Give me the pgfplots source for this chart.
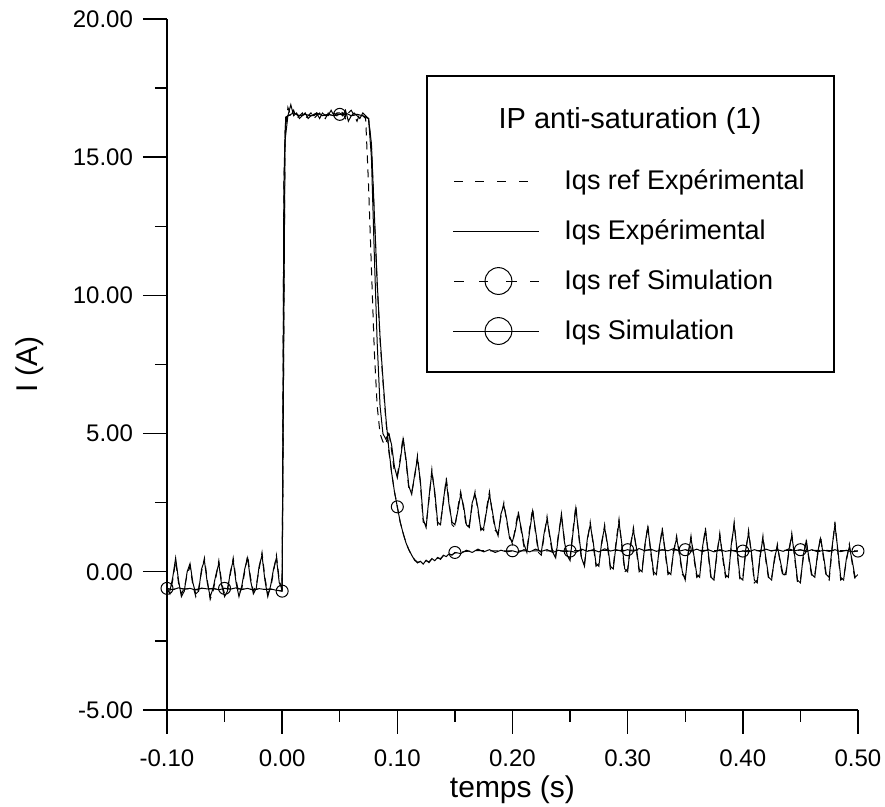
\documentclass[border=0pt]{standalone}
\usepackage{fontspec}
\setmainfont{Liberation Sans}
\usepackage{pgfplots}
\pgfplotsset{compat=1.18}
\usepackage{pgfplotstable}

\pgfplotstableread{
t y
-0.1000 -0.6
-0.0975 -0.8
-0.0950 -0.3
-0.0925 0.4
-0.0900 -0.4
-0.0875 -0.8
-0.0850 -0.6
-0.0825 -0.1
-0.0800 0.2
-0.0775 -0.5
-0.0750 -0.9
-0.0725 -0.6
-0.0700 0.0
-0.0675 0.5
-0.0650 -0.3
-0.0625 -1.0
-0.0600 -0.7
-0.0575 -0.2
-0.0550 0.4
-0.0525 -0.4
-0.0500 -0.8
-0.0475 -0.6
-0.0450 -0.1
-0.0425 0.5
-0.0400 -0.3
-0.0375 -0.8
-0.0350 -0.6
-0.0325 0.0
-0.0300 0.6
-0.0275 -0.2
-0.0250 -0.7
-0.0225 -0.5
-0.0200 0.1
-0.0175 0.7
-0.0150 -0.2
-0.0125 -0.8
-0.0100 -0.6
-0.0075 0.0
-0.0050 0.6
-0.0025 -0.3
0.0000 -0.7
0.0025 15.9
0.0050 16.8
0.0075 16.5
0.0100 16.7
0.0125 16.4
0.0150 16.5
0.0175 16.6
0.0200 16.4
0.0225 16.5
0.0250 16.6
0.0275 16.4
0.0300 16.5
0.0325 16.6
0.0350 16.5
0.0375 16.4
0.0400 16.6
0.0425 16.5
0.0450 16.6
0.0475 16.5
0.0500 16.7
0.0525 16.6
0.0550 16.4
0.0575 16.6
0.0600 16.7
0.0625 16.5
0.0650 16.3
0.0675 16.6
0.0700 16.5
0.0725 16.4
0.0750 14.0
0.0775 11.0
0.0800 8.0
0.0825 6.0
0.0850 5.0
0.0875 4.7
0.0900 4.6
0.0925 5.1
0.0950 4.4
0.0975 3.6
0.1000 3.5
0.1025 4.1
0.1050 4.9
0.1075 4.0
0.1100 3.0
0.1125 2.9
0.1150 3.4
0.1175 4.2
0.1200 3.2
0.1225 1.8
0.1250 1.7
0.1275 2.6
0.1300 3.7
0.1325 2.8
0.1350 1.7
0.1375 1.8
0.1400 2.5
0.1425 3.4
0.1450 2.5
0.1475 1.7
0.1500 1.6
0.1525 2.3
0.1550 2.9
0.1575 2.3
0.1600 1.6
0.1625 1.7
0.1650 2.4
0.1675 2.9
0.1700 2.2
0.1725 1.6
0.1750 1.5
0.1775 2.3
0.1800 2.9
0.1825 2.1
0.1850 1.5
0.1875 1.4
0.1900 2.0
0.1925 2.5
0.1950 1.8
0.1975 1.3
0.2000 1.0
0.2025 1.6
0.2050 2.2
0.2075 1.5
0.2100 0.9
0.2125 0.8
0.2150 1.6
0.2175 2.3
0.2200 1.4
0.2225 0.7
0.2250 0.6
0.2275 1.3
0.2300 2.0
0.2325 1.2
0.2350 0.6
0.2375 0.6
0.2400 1.4
0.2425 2.0
0.2450 1.2
0.2475 0.5
0.2500 0.5
0.2525 1.5
0.2550 2.4
0.2575 1.3
0.2600 0.4
0.2625 0.3
0.2650 1.1
0.2675 1.8
0.2700 1.0
0.2725 0.2
0.2750 0.3
0.2775 1.0
0.2800 1.7
0.2825 0.9
0.2850 0.1
0.2875 0.2
0.2900 1.1
0.2925 1.9
0.2950 0.9
0.2975 0.0
0.3000 0.1
0.3025 0.9
0.3050 1.6
0.3075 0.8
0.3100 0.0
0.3125 0.1
0.3150 0.9
0.3175 1.7
0.3200 0.7
0.3225 -0.1
0.3250 0.0
0.3275 0.8
0.3300 1.6
0.3325 0.7
0.3350 -0.1
0.3375 0.0
0.3400 0.7
0.3425 1.3
0.3450 0.6
0.3475 -0.1
0.3500 -0.2
0.3525 0.6
0.3550 1.3
0.3575 0.5
0.3600 -0.2
0.3625 -0.1
0.3650 0.8
0.3675 1.6
0.3700 0.6
0.3725 -0.3
0.3750 -0.2
0.3775 0.6
0.3800 1.4
0.3825 0.5
0.3850 -0.2
0.3875 -0.1
0.3900 0.9
0.3925 1.8
0.3950 0.7
0.3975 -0.3
0.4000 -0.2
0.4025 0.7
0.4050 1.5
0.4075 0.6
0.4100 -0.4
0.4125 -0.3
0.4150 0.5
0.4175 1.3
0.4200 0.4
0.4225 -0.3
0.4250 -0.2
0.4275 0.4
0.4300 1.0
0.4325 0.3
0.4350 -0.2
0.4375 0.0
0.4400 0.7
0.4425 1.4
0.4450 0.5
0.4475 -0.4
0.4500 -0.3
0.4525 0.5
0.4550 1.2
0.4575 0.4
0.4600 -0.2
0.4625 -0.1
0.4650 0.6
0.4675 1.3
0.4700 0.5
0.4725 -0.2
0.4750 -0.3
0.4775 0.8
0.4800 1.8
0.4825 0.7
0.4850 -0.3
0.4875 -0.2
0.4900 0.4
0.4925 1.0
0.4950 0.3
0.4975 -0.3
0.5000 -0.2
}\refexp

\pgfplotstableread{
t y
-0.1000 -0.7
-0.0975 -0.7
-0.0950 -0.2
-0.0925 0.5
-0.0900 -0.3
-0.0875 -0.9
-0.0850 -0.7
-0.0825 0.0
-0.0800 0.3
-0.0775 -0.4
-0.0750 -0.8
-0.0725 -0.7
-0.0700 0.1
-0.0675 0.4
-0.0650 -0.4
-0.0625 -0.9
-0.0600 -0.6
-0.0575 -0.1
-0.0550 0.3
-0.0525 -0.5
-0.0500 -0.9
-0.0475 -0.7
-0.0450 0.0
-0.0425 0.4
-0.0400 -0.4
-0.0375 -0.9
-0.0350 -0.5
-0.0325 0.1
-0.0300 0.5
-0.0275 -0.3
-0.0250 -0.8
-0.0225 -0.6
-0.0200 0.2
-0.0175 0.6
-0.0150 -0.3
-0.0125 -0.9
-0.0100 -0.5
-0.0075 0.1
-0.0050 0.5
-0.0025 -0.4
0.0000 -0.6
0.0025 15.6
0.0050 16.5
0.0075 16.9
0.0100 16.5
0.0125 16.6
0.0150 16.4
0.0175 16.5
0.0200 16.6
0.0225 16.4
0.0250 16.5
0.0275 16.5
0.0300 16.6
0.0325 16.4
0.0350 16.6
0.0375 16.5
0.0400 16.5
0.0425 16.7
0.0450 16.5
0.0475 16.6
0.0500 16.6
0.0525 16.5
0.0550 16.7
0.0575 16.3
0.0600 16.5
0.0625 16.6
0.0650 16.5
0.0675 16.4
0.0700 16.6
0.0725 16.5
0.0750 16.4
0.0775 15.0
0.0800 11.5
0.0825 8.3
0.0850 6.0
0.0875 5.0
0.0900 4.8
0.0925 5.0
0.0950 4.6
0.0975 3.8
0.1000 3.4
0.1025 4.0
0.1050 4.8
0.1075 4.1
0.1100 3.1
0.1125 2.8
0.1150 3.5
0.1175 4.1
0.1200 3.3
0.1225 1.9
0.1250 1.6
0.1275 2.7
0.1300 3.6
0.1325 2.9
0.1350 1.8
0.1375 1.7
0.1400 2.6
0.1425 3.3
0.1450 2.4
0.1475 1.8
0.1500 1.7
0.1525 2.2
0.1550 2.8
0.1575 2.4
0.1600 1.7
0.1625 1.6
0.1650 2.5
0.1675 2.8
0.1700 2.3
0.1725 1.5
0.1750 1.6
0.1775 2.2
0.1800 2.8
0.1825 2.2
0.1850 1.6
0.1875 1.3
0.1900 2.1
0.1925 2.4
0.1950 1.9
0.1975 1.2
0.2000 1.1
0.2025 1.5
0.2050 2.1
0.2075 1.6
0.2100 1.0
0.2125 0.7
0.2150 1.5
0.2175 2.2
0.2200 1.5
0.2225 0.8
0.2250 0.7
0.2275 1.4
0.2300 1.9
0.2325 1.3
0.2350 0.7
0.2375 0.5
0.2400 1.3
0.2425 2.1
0.2450 1.1
0.2475 0.6
0.2500 0.4
0.2525 1.4
0.2550 2.3
0.2575 1.4
0.2600 0.5
0.2625 0.2
0.2650 1.2
0.2675 1.7
0.2700 1.1
0.2725 0.3
0.2750 0.2
0.2775 1.1
0.2800 1.6
0.2825 1.0
0.2850 0.2
0.2875 0.1
0.2900 1.0
0.2925 1.8
0.2950 1.0
0.2975 0.1
0.3000 0.0
0.3025 1.0
0.3050 1.5
0.3075 0.9
0.3100 0.1
0.3125 0.0
0.3150 1.0
0.3175 1.6
0.3200 0.8
0.3225 0.0
0.3250 -0.1
0.3275 0.9
0.3300 1.5
0.3325 0.8
0.3350 0.0
0.3375 -0.1
0.3400 0.8
0.3425 1.2
0.3450 0.7
0.3475 0.0
0.3500 -0.3
0.3525 0.7
0.3550 1.2
0.3575 0.6
0.3600 -0.1
0.3625 -0.2
0.3650 0.9
0.3675 1.5
0.3700 0.7
0.3725 -0.2
0.3750 -0.3
0.3775 0.7
0.3800 1.3
0.3825 0.6
0.3850 -0.1
0.3875 -0.2
0.3900 1.0
0.3925 1.7
0.3950 0.8
0.3975 -0.2
0.4000 -0.3
0.4025 0.8
0.4050 1.4
0.4075 0.7
0.4100 -0.3
0.4125 -0.4
0.4150 0.6
0.4175 1.2
0.4200 0.5
0.4225 -0.2
0.4250 -0.3
0.4275 0.5
0.4300 0.9
0.4325 0.4
0.4350 -0.1
0.4375 -0.1
0.4400 0.8
0.4425 1.3
0.4450 0.6
0.4475 -0.3
0.4500 -0.4
0.4525 0.6
0.4550 1.1
0.4575 0.5
0.4600 -0.1
0.4625 -0.2
0.4650 0.7
0.4675 1.2
0.4700 0.6
0.4725 -0.1
0.4750 -0.2
0.4775 0.9
0.4800 1.7
0.4825 0.8
0.4850 -0.2
0.4875 -0.3
0.4900 0.5
0.4925 0.9
0.4950 0.4
0.4975 -0.2
0.5000 -0.1
}\actexp

\pgfplotstableread{
t y
-0.100 -0.60
-0.095 -0.65
-0.090 -0.58
-0.085 -0.63
-0.080 -0.60
-0.075 -0.66
-0.070 -0.59
-0.065 -0.62
-0.060 -0.60
-0.055 -0.65
-0.050 -0.60
-0.045 -0.63
-0.040 -0.58
-0.035 -0.64
-0.030 -0.60
-0.025 -0.66
-0.020 -0.61
-0.015 -0.64
-0.010 -0.62
-0.005 -0.67
0.000 -0.70
0.0015 14.0
0.003 16.4
0.005 16.5
0.010 16.6
0.015 16.5
0.020 16.55
0.025 16.5
0.030 16.6
0.035 16.5
0.040 16.55
0.045 16.5
0.050 16.55
0.055 16.6
0.060 16.5
0.065 16.55
0.070 16.5
0.075 16.4
0.0775 15.5
0.080 13.0
0.0825 10.5
0.085 8.5
0.0875 7.0
0.090 5.6
0.0925 4.5
0.095 3.6
0.0975 2.9
0.100 2.35
0.1025 1.8
0.105 1.4
0.1075 1.05
0.110 0.80
0.1125 0.60
0.115 0.42
0.1175 0.32
0.120 0.38
0.1225 0.28
0.125 0.42
0.1275 0.33
0.130 0.48
0.1325 0.40
0.135 0.52
0.1375 0.45
0.140 0.60
0.1425 0.55
0.145 0.65
0.1475 0.60
0.150 0.70
0.155 0.66
0.160 0.78
0.165 0.70
0.170 0.82
0.175 0.72
0.180 0.80
0.185 0.70
0.190 0.78
0.195 0.72
0.200 0.76
0.205 0.70
0.210 0.80
0.215 0.72
0.220 0.82
0.225 0.74
0.230 0.80
0.235 0.70
0.240 0.78
0.245 0.73
0.250 0.75
0.255 0.70
0.260 0.82
0.265 0.74
0.270 0.80
0.275 0.72
0.280 0.83
0.285 0.75
0.290 0.80
0.295 0.74
0.300 0.80
0.305 0.74
0.310 0.84
0.315 0.76
0.320 0.82
0.325 0.74
0.330 0.80
0.335 0.76
0.340 0.84
0.345 0.75
0.350 0.80
0.355 0.74
0.360 0.82
0.365 0.73
0.370 0.80
0.375 0.72
0.380 0.80
0.385 0.74
0.390 0.78
0.395 0.72
0.400 0.75
0.405 0.72
0.410 0.80
0.415 0.74
0.420 0.82
0.425 0.75
0.430 0.80
0.435 0.74
0.440 0.83
0.445 0.76
0.450 0.80
0.455 0.73
0.460 0.80
0.465 0.72
0.470 0.78
0.475 0.74
0.480 0.80
0.485 0.73
0.490 0.78
0.495 0.72
0.500 0.75
}\simact

\pgfplotstableread{
t y
-0.100 -0.62
-0.095 -0.64
-0.090 -0.60
-0.085 -0.62
-0.080 -0.61
-0.075 -0.64
-0.070 -0.60
-0.065 -0.63
-0.060 -0.61
-0.055 -0.64
-0.050 -0.60
-0.045 -0.62
-0.040 -0.60
-0.035 -0.63
-0.030 -0.61
-0.025 -0.65
-0.020 -0.62
-0.015 -0.64
-0.010 -0.63
-0.005 -0.66
0.000 -0.70
0.0015 14.2
0.003 16.45
0.005 16.5
0.010 16.55
0.015 16.5
0.020 16.55
0.025 16.5
0.030 16.55
0.035 16.5
0.040 16.55
0.045 16.5
0.050 16.55
0.055 16.55
0.060 16.5
0.065 16.55
0.070 16.5
0.075 16.4
0.0775 15.4
0.080 12.9
0.0825 10.4
0.085 8.4
0.0875 6.9
0.090 5.5
0.0925 4.4
0.095 3.6
0.0975 2.9
0.100 2.35
0.1025 1.8
0.105 1.4
0.1075 1.05
0.110 0.80
0.1125 0.60
0.115 0.44
0.1175 0.35
0.120 0.36
0.1225 0.32
0.125 0.40
0.1275 0.36
0.130 0.46
0.1325 0.42
0.135 0.50
0.1375 0.48
0.140 0.58
0.1425 0.56
0.145 0.63
0.1475 0.62
0.150 0.68
0.160 0.74
0.170 0.77
0.180 0.76
0.190 0.76
0.200 0.76
0.250 0.76
0.300 0.78
0.350 0.78
0.400 0.76
0.450 0.78
0.500 0.76
}\simref

\pgfplotstableread{
t y
-0.10 -0.60
-0.05 -0.60
0.00 -0.70
0.05 16.55
0.10 2.35
0.15 0.70
0.20 0.76
0.25 0.75
0.30 0.80
0.35 0.80
0.40 0.75
0.45 0.80
0.50 0.75
}\simmarks

\begin{document}
\begin{tikzpicture}
\useasboundingbox (-83.5pt,-48.5pt) rectangle (359pt,355pt);
\begin{axis}[
  scale only axis, width=345.5pt, height=345.5pt,
  xmin=-0.1, xmax=0.5, ymin=-5, ymax=20,
  axis x line*=bottom, axis y line*=left,
  axis line style={-, line width=0.7pt},
  xtick={-0.1,0,0.1,0.2,0.3,0.4,0.5},
  xticklabels={-0.10,0.00,0.10,0.20,0.30,0.40,0.50},
  minor xtick={-0.05,0.05,0.15,0.25,0.35,0.45},
  ytick={-5,0,5,10,15,20},
  yticklabels={-5.00,0.00,5.00,10.00,15.00,20.00},
  minor ytick={-2.5,2.5,7.5,12.5,17.5},
  tick align=outside, major tick length=12pt, minor tick length=6pt,
  every tick/.style={line width=0.7pt, black},
  ticklabel style={font=\fontsize{12}{14}\selectfont},
  xticklabel style={yshift=-4.5pt},
  yticklabel style={xshift=-1.5pt},
  xlabel={temps (s)}, ylabel={I (A)},
  label style={font=\fontsize{15}{18}\selectfont},
  xlabel style={at={(axis description cs:0.5,0)}, anchor=center, yshift=-40pt},
  ylabel style={at={(axis description cs:0,0.5)}, anchor=center, yshift=68.5pt},
  legend style={draw=none, fill=none, inner sep=0pt, outer sep=0pt,
    at={(rel axis cs:0.4139,0.8017)}, anchor=north west,
    row sep=0pt, column sep=9.5pt,
    font=\fontsize{13.5}{16}\selectfont},
  legend cell align=left,
]
\addplot[forget plot, black, line width=0.5pt, dash pattern=on 4pt off 3pt] table {\simref};
\addplot[forget plot, black, line width=0.5pt] table {\simact};
\addplot[forget plot, black, only marks, mark=o, mark size=3pt, mark options={line width=0.5pt}] table {\simmarks};
\addplot[forget plot, black, line width=0.5pt, dash pattern=on 4pt off 3pt] table {\refexp};
\addplot[forget plot, black, line width=0.5pt] table {\actexp};

\draw[line width=0.75pt] (rel axis cs:0.3763,0.9175) rectangle (rel axis cs:0.9653,0.4892);
\node[font=\fontsize{14.5}{17}\selectfont] at (rel axis cs:0.670,0.8524) {IP anti-saturation (1)};

\addlegendimage{legend image code/.code={%
  \path[draw=none,fill=none] (0pt,-12.5pt) rectangle (44pt,12.5pt);
  \draw[line width=0.5pt,solid] (0.5pt,0pt)--(5pt,0pt) (11pt,0pt)--(15.5pt,0pt) (22pt,0pt)--(26.5pt,0pt) (33pt,0pt)--(37.5pt,0pt);}}
\addlegendentry{Iqs ref Expérimental}
\addlegendimage{legend image code/.code={%
  \path[draw=none,fill=none] (0pt,-12.5pt) rectangle (44pt,12.5pt);
  \draw[line width=0.5pt,solid] (0pt,0pt)--(43pt,0pt);}}
\addlegendentry{Iqs Expérimental}
\addlegendimage{legend image code/.code={%
  \path[draw=none,fill=none] (0pt,-12.5pt) rectangle (44pt,12.5pt);
  \draw[line width=0.5pt,solid] (0.5pt,0pt)--(5.5pt,0pt) (13pt,0pt)--(17.5pt,0pt) (26.5pt,0pt)--(32pt,0pt) (38.5pt,0pt)--(43pt,0pt);
  \draw[line width=0.5pt,solid] (22.5pt,0pt) circle (6.7pt);}}
\addlegendentry{Iqs ref Simulation}
\addlegendimage{legend image code/.code={%
  \path[draw=none,fill=none] (0pt,-12.5pt) rectangle (44pt,12.5pt);
  \draw[line width=0.5pt,solid] (0pt,0pt)--(43pt,0pt);
  \draw[line width=0.5pt,solid] (22.5pt,0pt) circle (6.7pt);}}
\addlegendentry{Iqs Simulation}
\end{axis}
\end{tikzpicture}
\end{document}
